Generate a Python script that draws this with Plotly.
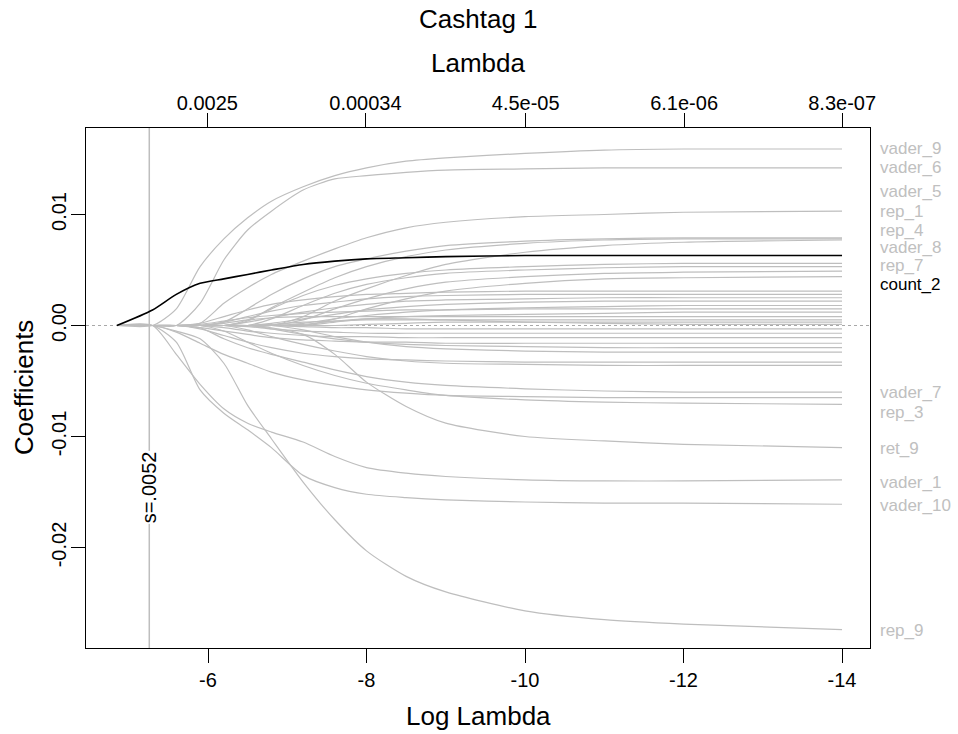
import math
import plotly.graph_objects as go

# ---------------- data ----------------
# log(lambda) grid at which coefficient paths were read
log_lambda = [-4.85, -5.3, -5.6, -5.9, -6.2, -6.5, -6.8, -7.2, -7.6, -8.0,
              -8.5, -9.0, -10.0, -11.0, -12.0, -14.0]

# coefficient paths (units of 1e-3)
vader_9 = [0, 0, 1.5, 5.3, 7.8, 9.7, 11.2, 12.5, 13.5, 14.2, 14.8, 15.1, 15.5, 15.8, 15.9, 15.9]
vader_6 = [0, 0, 0, 2.0, 5.9, 8.6, 10.3, 12.2, 13.2, 13.5, 13.8, 14.0, 14.1, 14.2, 14.2, 14.2]
vader_5 = [0, 0, 0, 0.2, 2.0, 3.4, 4.6, 5.8, 6.9, 7.9, 8.8, 9.3, 9.8, 10.0, 10.2, 10.3]
rep_1 = [0, 0, 0, 0, 0.3, 1.5, 2.8, 4.2, 5.3, 6.0, 6.7, 7.2, 7.6, 7.8, 7.9, 7.9]
rep_4 = [0, 0, 0, 0, 0, 0.4, 1.6, 3.0, 4.3, 5.3, 6.2, 6.8, 7.4, 7.7, 7.8, 7.8]
vader_8 = [0, 0, 0, 0, 0, 0, 0, 0.8, 2.2, 3.3, 4.5, 5.5, 6.6, 7.2, 7.5, 7.7]
rep_7 = [0, 0, 0, 0, 0, 0.5, 1.5, 2.7, 3.6, 4.2, 4.7, 5.0, 5.3, 5.5, 5.6, 5.6]
count_2 = [0, 1.4, 2.8, 3.8, 4.2, 4.6, 5.0, 5.5, 5.8, 6.0, 6.1, 6.2, 6.3, 6.3, 6.3, 6.3]
vader_7 = [0, 0, 0, -0.2, -1.2, -2.0, -2.6, -3.3, -4.0, -4.6, -5.1, -5.4, -5.7, -5.9, -6.0, -6.0]
rep_3 = [0, 0, 0, 0, -0.5, -1.5, -2.5, -3.6, -4.5, -5.2, -5.8, -6.3, -6.7, -6.9, -7.0, -7.1]
ret_9 = [0, 0, 0, 0, 0, 0, -0.2, -0.8, -2.6, -5.1, -7.3, -8.8, -10.0, -10.4, -10.7, -11.0]
vader_1 = [0, 0, -2.6, -5.3, -7.5, -8.8, -9.6, -10.5, -11.8, -12.8, -13.3, -13.6, -13.9, -14.0, -14.0, -13.9]
vader_10 = [0, 0, -1.5, -5.8, -7.9, -9.4, -11.0, -13.5, -14.6, -15.2, -15.5, -15.7, -15.9, -16.0, -16.0, -16.1]
rep_9 = [0, 0, -0.5, -1.2, -3.4, -7.2, -10.2, -14.1, -17.5, -20.3, -22.6, -24.0, -25.7, -26.5, -26.9, -27.4]

# unlabelled coefficients
other_01 = [0, 0, 0, 0, 0, 0, 0.6, 1.8, 2.9, 3.7, 4.3, 4.7, 5.0, 5.2, 5.3, 5.3]
other_02 = [0, 0, 0, 0, 0, 0, 0, 0.5, 1.5, 2.4, 3.3, 3.9, 4.4, 4.7, 4.8, 4.9]
other_03 = [0, 0, 0, 0, 0, 0, 0, 0, 0.6, 1.5, 2.4, 3.1, 3.8, 4.2, 4.3, 4.4]
other_04 = [0, 0, 0, 0.2, 0.8, 1.4, 1.9, 2.3, 2.6, 2.8, 2.9, 3.0, 3.1, 3.1, 3.1, 3.1]
other_05 = [0, 0, 0, 0, 0.3, 0.8, 1.3, 1.8, 2.1, 2.4, 2.6, 2.7, 2.8, 2.8, 2.8, 2.8]
other_06 = [0, 0, 0, 0, 0, 0.3, 0.7, 1.2, 1.6, 1.9, 2.2, 2.3, 2.4, 2.5, 2.5, 2.5]
other_07 = [0, 0, 0, 0, 0, 0, 0.2, 0.6, 1.0, 1.4, 1.7, 1.9, 2.1, 2.2, 2.2, 2.2]
other_08 = [0, 0, 0, 0, 0, 0, 0, 0.2, 0.6, 0.9, 1.2, 1.4, 1.6, 1.7, 1.8, 1.8]
other_09 = [0, 0, 0, 0.1, 0.4, 0.7, 0.9, 1.1, 1.2, 1.3, 1.4, 1.4, 1.5, 1.5, 1.5, 1.5]
other_10 = [0, 0, 0, 0, 0, 0, 0, 0, 0.3, 0.6, 0.8, 0.9, 1.0, 1.1, 1.2, 1.2]
other_11 = [0, 0, 0, 0, 0.2, 0.5, 0.7, 0.8, 0.8, 0.8, 0.8, 0.8, 0.8, 0.8, 0.8, 0.8]
other_12 = [0, 0, 0, 0, 0, 0, 0.1, 0.3, 0.4, 0.5, 0.5, 0.5, 0.5, 0.5, 0.5, 0.5]
other_13 = [0, 0, 0, 0, 0, 0, 0, 0, 0, 0.1, 0.2, 0.3, 0.3, 0.3, 0.3, 0.3]
other_14 = [0, 0, 0, 0, 0, 0, 0, 0.1, 0.4, 0.6, 0.6, 0.5, 0.3, 0.2, 0.1, 0.1]
other_15 = [0, 0, 0, 0, 0, 0, 0, -0.1, -0.2, -0.2, -0.3, -0.3, -0.3, -0.3, -0.3, -0.3]
other_16 = [0, 0, 0, 0, 0, -0.1, -0.3, -0.5, -0.6, -0.7, -0.7, -0.7, -0.7, -0.7, -0.7, -0.7]
other_17 = [0, 0, 0, 0, -0.2, -0.5, -0.7, -0.9, -1.0, -1.0, -1.1, -1.1, -1.1, -1.1, -1.1, -1.1]
other_18 = [0, 0, 0, -0.2, -0.5, -0.8, -1.1, -1.3, -1.4, -1.5, -1.5, -1.6, -1.6, -1.6, -1.6, -1.6]
other_19 = [0, 0, 0, 0, 0, 0, -0.3, -0.8, -1.2, -1.5, -1.7, -1.8, -1.9, -2.0, -2.0, -2.0]
other_20 = [0, 0, 0, 0, 0, 0, 0, -0.4, -1.0, -1.5, -1.9, -2.1, -2.3, -2.4, -2.4, -2.4]
other_21 = [0, 0, 0, -0.3, -0.9, -1.5, -2.0, -2.5, -2.8, -3.0, -3.1, -3.2, -3.3, -3.3, -3.3, -3.3]
other_22 = [0, 0, 0, 0, 0, -0.4, -1.0, -1.7, -2.3, -2.8, -3.2, -3.4, -3.5, -3.6, -3.6, -3.6]
other_23 = [0, 0, -0.6, -1.6, -2.6, -3.4, -4.2, -4.9, -5.4, -5.8, -6.1, -6.3, -6.4, -6.5, -6.5, -6.5]

gray_series = [vader_9, vader_6, vader_5, rep_1, rep_4, vader_8, rep_7,
               vader_7, rep_3, ret_9, vader_1, vader_10, rep_9,
               other_01, other_02, other_03, other_04, other_05, other_06, other_07,
               other_08, other_09, other_10, other_11, other_12, other_13, other_14,
               other_15, other_16, other_17, other_18, other_19, other_20, other_21,
               other_22, other_23]

# right-hand labels and the coefficient level at which each label is written
label_names = ["vader_9", "vader_6", "vader_5", "rep_1", "rep_4", "vader_8", "rep_7",
               "count_2", "vader_7", "rep_3", "ret_9", "vader_1", "vader_10", "rep_9"]
label_levels = [15.9, 14.2, 12.1, 10.3, 8.6, 7.0, 5.4, 3.7, -6.0, -7.8, -11.1, -14.1, -16.2, -27.5]

# top axis: lambda tick labels
lambda_ticks = [0.0025, 0.00034, 4.5e-05, 6.1e-06, 8.3e-07]
lambda_tick_text = ["0.0025", "0.00034", "4.5e-05", "6.1e-06", "8.3e-07"]
loglambda_ticks = [-6, -8, -10, -12, -14]
coef_ticks = [-0.02, -0.01, 0.0, 0.01]
coef_tick_text = ["-0.02", "-0.01", "0.00", "0.01"]
s_value = 0.0052

# ---------------- figure ----------------
GRAY = "#BEBEBE"
FONT = "Liberation Sans, Arial, sans-serif"
scale = 1e-3

fig = go.Figure()
for s in gray_series:
    fig.add_trace(go.Scatter(x=log_lambda, y=[v * scale for v in s], mode="lines",
                             line=dict(color=GRAY, width=1.2, shape="spline", smoothing=0.7),
                             hoverinfo="skip", showlegend=False))
fig.add_trace(go.Scatter(x=log_lambda, y=[v * scale for v in count_2], mode="lines",
                         line=dict(color="black", width=1.6, shape="spline", smoothing=0.7),
                         hoverinfo="skip", showlegend=False))
# invisible trace so the top (lambda) axis is drawn
fig.add_trace(go.Scatter(x=log_lambda, y=[v * scale for v in count_2], xaxis="x2",
                         mode="lines", line=dict(width=0), opacity=0,
                         hoverinfo="skip", showlegend=False))

xr = [-4.4606, -14.353]
yr = [-0.02905, 0.01779]

fig.update_layout(
    width=958, height=734,
    margin=dict(l=86, r=88, t=128, b=86, autoexpand=False),
    paper_bgcolor="white", plot_bgcolor="white",
    font=dict(family=FONT, color="black"),
    hovermode=False,
    xaxis=dict(range=xr, autorange=False, showgrid=False, zeroline=False,
               showline=True, linecolor="black", linewidth=1, mirror=True,
               ticks="outside", ticklen=14, tickcolor="black", tickwidth=1,
               tickvals=loglambda_ticks, ticktext=[str(v) for v in loglambda_ticks],
               tickfont=dict(size=20, family=FONT)),
    xaxis2=dict(range=xr, autorange=False, overlaying="x", side="top",
                showgrid=False, zeroline=False, showline=True, linecolor="black",
                ticks="outside", ticklen=14, tickcolor="black", tickwidth=1,
                ticklabelstandoff=-5,
                tickvals=[math.log(v) for v in lambda_ticks], ticktext=lambda_tick_text,
                tickfont=dict(size=20, family=FONT)),
    yaxis=dict(range=yr, autorange=False, showgrid=False, zeroline=False,
               showline=True, linecolor="black", linewidth=1, mirror=True,
               ticks="outside", ticklen=14, tickcolor="black", tickwidth=1,
               ticklabelstandoff=-3,
               tickvals=coef_ticks, ticktext=coef_tick_text, tickangle=-90,
               tickfont=dict(size=20, family=FONT)),
)

# dotted zero line
fig.add_shape(type="line", xref="paper", x0=0, x1=1, yref="y", y0=0, y1=0,
              line=dict(color="#A8A8A8", width=1, dash="dot"), layer="below")
# selected lambda line
s_log = math.log(s_value)
fig.add_shape(type="line", xref="x", x0=s_log, x1=s_log, yref="paper", y0=0, y1=1,
              line=dict(color=GRAY, width=1.5), layer="below")
fig.add_annotation(x=s_log, xref="x", y=-0.01455, yref="y", text="s=.0052",
                   textangle=-90, showarrow=False, bgcolor="white",
                   xanchor="center", yanchor="middle",
                   font=dict(size=20, family=FONT, color="black"), borderpad=0)

# right labels
for name, lvl in zip(label_names, label_levels):
    fig.add_annotation(x=(878 - 86) / 784.0, xref="paper", xanchor="left",
                       y=lvl * scale, yref="y", yanchor="middle",
                       text=name, showarrow=False,
                       font=dict(size=17, family=FONT,
                                 color="black" if name == "count_2" else "#C0C0C0"))

# titles (positions given in screen pixels)
def py(p):
    return (648 - p) / 520.0

def px(p):
    return (p - 86) / 784.0

fig.add_annotation(x=0.5, xref="paper", y=py(19), yref="paper", text="Cashtag 1",
                   xanchor="center", yanchor="middle",
                   showarrow=False, font=dict(size=26, family=FONT))
fig.add_annotation(x=0.5, xref="paper", y=py(63), yref="paper", text="Lambda",
                   xanchor="center", yanchor="middle",
                   showarrow=False, font=dict(size=26, family=FONT))
fig.add_annotation(x=0.5, xref="paper", y=py(716), yref="paper", text="Log Lambda",
                   xanchor="center", yanchor="middle",
                   showarrow=False, font=dict(size=26, family=FONT))
fig.add_annotation(x=px(24), xref="paper", y=py(388), yref="paper",
                   xanchor="center", yanchor="middle",
                   text="Coefficients", textangle=-90, showarrow=False,
                   font=dict(size=26, family=FONT))

# remove the default page margin so the 958x734 figure fills the window exactly
fig.write_html("out.html", config={"displayModeBar": False},
               post_script="document.body.style.margin='0';document.body.style.overflow='hidden';")
